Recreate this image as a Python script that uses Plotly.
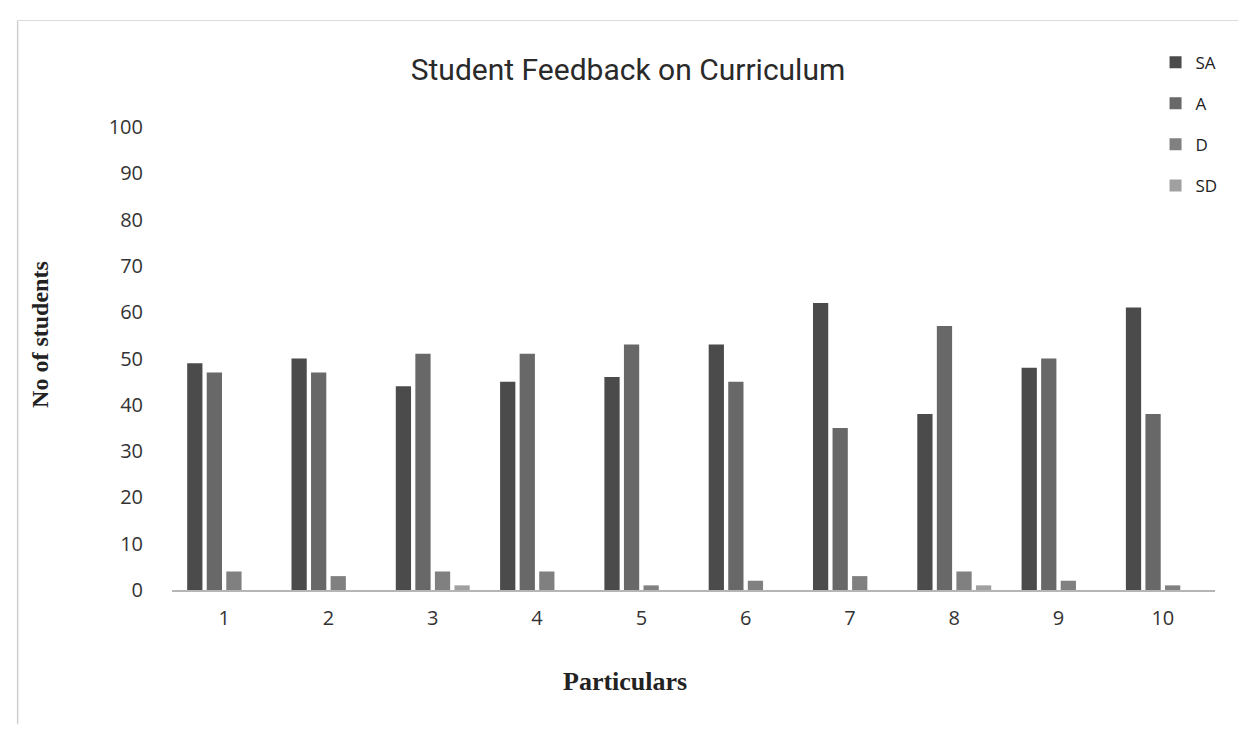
import plotly.graph_objects as go

categories = ["1", "2", "3", "4", "5", "6", "7", "8", "9", "10"]
SA = [49, 50, 44, 45, 46, 53, 62, 38, 48, 61]
A = [47, 47, 51, 51, 53, 45, 35, 57, 50, 38]
D = [4, 3, 4, 4, 1, 2, 3, 4, 2, 1]
SD = [0, 0, 1, 0, 0, 0, 0, 1, 0, 0]
y_ticks = [0, 10, 20, 30, 40, 50, 60, 70, 80, 90, 100]

series = [("SA", SA, "#4b4b4b"), ("A", A, "#686868"), ("D", D, "#808080"), ("SD", SD, "#a0a0a0")]

fig = go.Figure()
for name, vals, col in series:
    fig.add_trace(go.Bar(x=categories, y=vals, name=name, legendgroup=name,
                         marker=dict(color=col, line=dict(width=0))))

fig.update_layout(
    width=1246, height=721,
    paper_bgcolor="white", plot_bgcolor="white",
    margin=dict(l=164, r=39, t=119, b=139),
    barmode="group", bargap=0.25, bargroupgap=0.22,
    title=dict(text="Student Feedback on Curriculum", x=0.4976, xanchor="center", y=0.915, yanchor="middle",
               font=dict(family="Roboto, sans-serif", size=30, color="#2a2a2a")),
    legend=dict(x=0.943, xanchor="left", y=1.178, yanchor="top", bgcolor="rgba(0,0,0,0)",
                font=dict(family="Open Sans, sans-serif", size=17, color="#222"),
                traceorder="grouped", tracegroupgap=16, itemwidth=30),
    showlegend=True,
    font=dict(family="Open Sans, sans-serif", color="#333"),
)
fig.update_xaxes(type="category", showline=True, linecolor="#b5b5b5", linewidth=1.5, ticks="",
                 tickfont=dict(size=20, color="#333"), ticklabelstandoff=9)
fig.update_yaxes(range=[0, 100], tickvals=y_ticks, showgrid=False, zeroline=False, showline=False, ticks="",
                 tickfont=dict(size=20, color="#333"), ticklabelstandoff=28)

fig.add_annotation(text="<b>No of students</b>", xref="paper", yref="paper", x=-0.1266, y=0.553,
                   textangle=-90, showarrow=False, xanchor="center", yanchor="middle",
                   font=dict(family="Liberation Serif, serif", size=24, color="#222"))
fig.add_annotation(text="<b>Particulars</b>", xref="paper", yref="paper", x=0.434, y=-0.197,
                   showarrow=False, xanchor="center", yanchor="middle",
                   font=dict(family="Liberation Serif, serif", size=26, color="#222"))

fig.add_shape(type="line", xref="paper", yref="paper", x0=-0.148, x1=-0.148, y0=-0.29, y1=1.23,
              line=dict(color="#cfcfcf", width=1.5))
fig.add_shape(type="line", xref="paper", yref="paper", x0=-0.148, x1=1.03, y0=1.23, y1=1.23,
              line=dict(color="#dcdcdc", width=1))

fig.write_html("out.html")
